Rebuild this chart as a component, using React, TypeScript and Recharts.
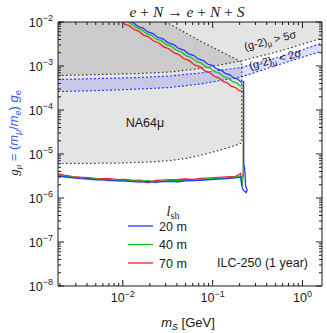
import React from "react";
import { ComposedChart, XAxis, YAxis, Line, Area } from "recharts";

const SANS = "'Liberation Sans', Arial, Helvetica, sans-serif";
const SERIF = "'Liberation Serif', 'Times New Roman', serif";
const INK = "#1a1a1a";
const LABEL_BLUE = "#2f5cf0";

// (g-2)_mu: 5 sigma exclusion edge and the 2 sigma preferred band
const g2Mass = [1.9e-3, 5.59e-3, 1.56e-2, 3.36e-2, 7.26e-2, 0.2077, 0.565, 1.65];
const g2FiveSigma = [6.08e-4, 6.41e-4, 6.76e-4, 7.31e-4, 8.77e-4, 1.3e-3, 2.19e-3, 4.3e-3];
const g2BandHigh = [4.93e-4, 5.2e-4, 5.48e-4, 5.93e-4, 6.93e-4, 9.25e-4, 1.6e-3, 3.3e-3];
const g2BandLow = [2.63e-4, 2.77e-4, 3.0e-4, 3.25e-4, 3.9e-4, 5.62e-4, 1.1e-3, 2.19e-3];

// NA64mu excluded region
const na64Mass = [1.9e-3, 5e-3, 9.33e-3, 2e-2, 3.03e-2, 5e-2, 7.26e-2, 0.1212, 0.16, 0.211];
const na64Low = [6.08e-6, 6.15e-6, 6.25e-6, 6.6e-6, 6.95e-6, 7.9e-6, 9.25e-6, 1.23e-5, 1.45e-5, 1.78e-5];
const na64High = [1e-2, 1e-2, 1e-2, 1e-2, 1e-2, 5.65e-3, 3.7e-3, 2.18e-3, 1.64e-3, 1.23e-3];

// ILC-250 sensitivity, lower edge (shared mass grid)
const lowMass = [1.9e-3, 2.3e-3, 2.8e-3, 3.4e-3, 4.1e-3, 5e-3, 6e-3, 7.3e-3, 8.8e-3, 1.07e-2, 1.3e-2, 1.57e-2, 1.9e-2,
  2.3e-2, 2.8e-2, 3.4e-2, 4.1e-2, 5e-2, 6e-2, 7.3e-2, 8.8e-2, 0.107, 0.13, 0.157, 0.18, 0.2];
const low20 = [3.15e-6, 3.0e-6, 2.87e-6, 2.76e-6, 2.7e-6, 2.6e-6, 2.57e-6, 2.5e-6, 2.46e-6, 2.42e-6, 2.36e-6, 2.3e-6, 2.35e-6,
  2.27e-6, 2.36e-6, 2.38e-6, 2.34e-6, 2.45e-6, 2.48e-6, 2.52e-6, 2.6e-6, 2.66e-6, 2.72e-6, 2.8e-6, 2.86e-6, 2.95e-6];
const low40 = [3.3e-6, 3.12e-6, 2.96e-6, 2.86e-6, 2.76e-6, 2.7e-6, 2.62e-6, 2.6e-6, 2.52e-6, 2.53e-6, 2.45e-6, 2.42e-6, 2.48e-6,
  2.36e-6, 2.43e-6, 2.47e-6, 2.5e-6, 2.55e-6, 2.5e-6, 2.64e-6, 2.7e-6, 2.78e-6, 2.82e-6, 2.93e-6, 2.98e-6, 3.1e-6];
const low70 = [3.55e-6, 3.28e-6, 3.06e-6, 2.96e-6, 2.9e-6, 2.8e-6, 2.74e-6, 2.76e-6, 2.62e-6, 2.66e-6, 2.52e-6, 2.56e-6, 2.2e-6,
  2.5e-6, 2.56e-6, 2.6e-6, 2.63e-6, 2.7e-6, 2.64e-6, 2.78e-6, 2.84e-6, 2.9e-6, 2.98e-6, 3.05e-6, 3.1e-6, 3.45e-6];

// turn-around near 2 m_mu
const turn20Mass = [0.2061, 0.2103, 0.2185, 0.236, 0.2422, 0.2331, 0.23, 0.2272, 0.2214, 0.2214];
const turn20 = [3.0e-6, 1.97e-6, 1.52e-6, 1.33e-6, 1.52e-6, 1.87e-6, 3.33e-6, 4.81e-6, 6.24e-6, 4.4e-4];
const turn40Mass = [0.206, 0.21, 0.215, 0.2175, 0.22, 0.22];
const turn40 = [3.05e-6, 2.25e-6, 2.05e-6, 2.9e-6, 5e-6, 3.6e-4];
const turn70Mass = [0.205, 0.207, 0.2095, 0.22, 0.22];
const turn70 = [3.6e-6, 2.9e-6, 2.85e-6, 3.2e-6, 2.75e-4];

// upper edge, from high mass to low mass
const up20Mass = [0.2185, 0.205, 0.19, 0.17, 0.155, 0.138, 0.125, 0.11, 0.099, 0.088, 0.079, 0.069, 0.062, 0.054,
  0.048, 0.042, 0.037, 0.032, 0.028, 0.0245, 0.0215, 0.019, 0.0168, 0.0148, 0.0132, 0.0122];
const up20 = [4.3e-4, 4.4e-4, 5.05e-4, 5.4e-4, 6.3e-4, 6.8e-4, 8.0e-4, 8.7e-4, 1.03e-3, 1.11e-3, 1.32e-3, 1.45e-3, 1.73e-3,
  1.89e-3, 2.29e-3, 2.5e-3, 3.06e-3, 3.36e-3, 4.14e-3, 4.5e-3, 5.5e-3, 5.95e-3, 7.25e-3, 7.85e-3, 9.45e-3, 1.05e-2];
const up40Mass = [0.2135, 0.2, 0.185, 0.165, 0.15, 0.134, 0.12, 0.107, 0.095, 0.085, 0.075, 0.066, 0.058, 0.051,
  0.045, 0.0395, 0.0345, 0.0305, 0.0268, 0.0235, 0.0207, 0.0182, 0.016, 0.0141, 0.0125, 0.0112];
const up40 = [3.5e-4, 3.6e-4, 4.12e-4, 4.45e-4, 5.24e-4, 5.65e-4, 6.77e-4, 7.3e-4, 8.85e-4, 9.5e-4, 1.16e-3, 1.27e-3, 1.56e-3,
  1.7e-3, 2.08e-3, 2.28e-3, 2.82e-3, 3.07e-3, 3.77e-3, 4.12e-3, 5.06e-3, 5.5e-3, 6.8e-3, 7.4e-3, 9.0e-3, 1.02e-2];
const up70Mass = [0.209, 0.195, 0.18, 0.162, 0.147, 0.131, 0.117, 0.104, 0.092, 0.082, 0.072, 0.063, 0.055, 0.048,
  0.042, 0.037, 0.0325, 0.0285, 0.025, 0.022, 0.0193, 0.017, 0.015, 0.0133, 0.0118, 0.0106, 0.0099];
const up70 = [2.7e-4, 2.78e-4, 3.23e-4, 3.45e-4, 4.1e-4, 4.45e-4, 5.38e-4, 5.85e-4, 7.17e-4, 7.75e-4, 9.6e-4, 1.06e-3, 1.32e-3,
  1.46e-3, 1.82e-3, 2.0e-3, 2.47e-3, 2.72e-3, 3.38e-3, 3.7e-3, 4.6e-3, 5.05e-3, 6.2e-3, 6.75e-3, 8.25e-3, 8.85e-3, 1.02e-2];

const xMajor = [1e-2, 1e-1, 1];
const yMajor = [1e-8, 1e-7, 1e-6, 1e-5, 1e-4, 1e-3, 1e-2];
const X_DOMAIN: [number, number] = [1.9e-3, 1.65];
const Y_DOMAIN: [number, number] = [1e-8, 1e-2];

const withMinors = (decades: number[], lo: number, hi: number) => {
  const out: number[] = [];
  decades.forEach((d) => {
    for (let k = 1; k <= 9; k++) {
      const v = k * d;
      if (v >= lo && v <= hi) out.push(v);
    }
  });
  return out.sort((a, b) => a - b);
};
const xTicks = withMinors([1e-3, ...xMajor], X_DOMAIN[0], X_DOMAIN[1]);
const yTicks = withMinors(yMajor, Y_DOMAIN[0], Y_DOMAIN[1]);

const zip = (ms: number[], gs: number[]) => ms.map((m, i) => ({ m, g: gs[i] }));
const band = (ms: number[], lo: number[], hi: number[]) => ms.map((m, i) => ({ m, r: [lo[i], hi[i]] }));

const fiveSigmaArea = band(g2Mass, g2FiveSigma, g2FiveSigma.map(() => Y_DOMAIN[1]));
const twoSigmaArea = band(g2Mass, g2BandLow, g2BandHigh);
const na64Area = band(na64Mass, na64Low, na64High);
const na64Edge = [
  ...zip(na64Mass, na64Low),
  ...zip(na64Mass, na64High).reverse().filter((p) => p.g < Y_DOMAIN[1]),
  { m: na64Mass[na64High.lastIndexOf(Y_DOMAIN[1])], g: Y_DOMAIN[1] },
];

const contour = (low: number[], tm: number[], tg: number[], um: number[], ug: number[]) => [
  ...zip(lowMass, low),
  ...zip(tm, tg),
  ...zip(um, ug),
];
const curve20 = contour(low20, turn20Mass, turn20, up20Mass, up20);
const curve40 = contour(low40, turn40Mass, turn40, up40Mass, up40);
const curve70 = contour(low70, turn70Mass, turn70, up70Mass, up70);

const expText = (e: number) => (e < 0 ? "\u2212" + Math.abs(e) : String(e));

const makeTick = (side: "bottom" | "top" | "left" | "right", labels: boolean) => (props: any) => {
  const { x, y, payload } = props;
  const lv = Math.log10(payload.value);
  const e = Math.round(lv);
  const major = Math.abs(lv - e) < 1e-6;
  const len = major ? 6 : 3;
  const x2 = side === "left" ? x + len : side === "right" ? x - len : x;
  const y2 = side === "bottom" ? y - len : side === "top" ? y + len : y;
  return (
    <g>
      <line x1={x} y1={y} x2={x2} y2={y2} stroke={INK} strokeWidth={1} />
      {labels && major && side === "bottom" && (
        <text x={x} y={y + 16} textAnchor="middle" fontFamily={SANS} fontSize={12.5} fill={INK}>
          10<tspan dy={-5.5} fontSize={9}>{expText(e)}</tspan>
        </text>
      )}
      {labels && major && side === "left" && (
        <text x={x - 5} y={y + 4.5} textAnchor="end" fontFamily={SANS} fontSize={12.5} fill={INK}>
          10<tspan dy={-5.5} fontSize={9}>{expText(e)}</tspan>
        </text>
      )}
    </g>
  );
};

export default function App() {
  const axisCommon = {
    type: "number" as const,
    scale: "log" as const,
    allowDataOverflow: true,
    interval: 0 as const,
    tickSize: 0,
    tickMargin: 0,
    tickLine: false,
    axisLine: { stroke: INK, strokeWidth: 1 },
  };
  return (
    <div style={{ position: "absolute", left: 0, top: 0, width: 327, height: 333, background: "#fff" }}>
      <ComposedChart width={327} height={333} margin={{ top: 0, right: 0, bottom: 0, left: 0 }}>
        <XAxis {...axisCommon} xAxisId={0} dataKey="m" domain={X_DOMAIN} ticks={xTicks} height={47} tick={makeTick("bottom", true)} />
        <XAxis {...axisCommon} xAxisId="t" orientation="top" dataKey="m" domain={X_DOMAIN} ticks={xTicks} height={22} tick={makeTick("top", false)} />
        <YAxis {...axisCommon} yAxisId={0} domain={Y_DOMAIN} ticks={yTicks} width={58} tick={makeTick("left", true)} />
        <YAxis {...axisCommon} yAxisId="r" orientation="right" domain={Y_DOMAIN} ticks={yTicks} width={5} tick={makeTick("right", false)} />

        <Area data={fiveSigmaArea} dataKey="r" type="linear" stroke="none" fill="#000" fillOpacity={0.105} isAnimationActive={false} />
        <Area data={na64Area} dataKey="r" type="linear" stroke="none" fill="#000" fillOpacity={0.105} isAnimationActive={false} />
        <Area data={twoSigmaArea} dataKey="r" type="linear" stroke="none" fill="#3c3cff" fillOpacity={0.17} isAnimationActive={false} />

        <Line data={zip(g2Mass, g2BandHigh)} dataKey="g" type="linear" stroke="#2233ff" strokeWidth={1.1} strokeDasharray="2 2" dot={false} isAnimationActive={false} />
        <Line data={zip(g2Mass, g2BandLow)} dataKey="g" type="linear" stroke="#2233ff" strokeWidth={1.1} strokeDasharray="2 2" dot={false} isAnimationActive={false} />
        <Line data={zip(g2Mass, g2FiveSigma)} dataKey="g" type="linear" stroke="#333" strokeWidth={1.2} strokeDasharray="1.5 2.5" dot={false} isAnimationActive={false} />
        <Line data={na64Edge} dataKey="g" type="linear" stroke="#333" strokeWidth={1.2} strokeDasharray="1.5 2.5" dot={false} isAnimationActive={false} />

        <Line data={curve70} dataKey="g" type="linear" stroke="#f02020" strokeWidth={1.3} dot={false} isAnimationActive={false} />
        <Line data={curve40} dataKey="g" type="linear" stroke="#1fc01f" strokeWidth={1.3} dot={false} isAnimationActive={false} />
        <Line data={curve20} dataKey="g" type="linear" stroke="#1f3cff" strokeWidth={1.3} dot={false} isAnimationActive={false} />
      </ComposedChart>

      <svg width={327} height={333} style={{ position: "absolute", left: 0, top: 0, pointerEvents: "none" }}>
        <text x={187} y={16.5} textAnchor="middle" fontFamily={SERIF} fontSize={15.5} fill={INK}>
          <tspan fontStyle="italic">e</tspan> + <tspan fontStyle="italic">N</tspan> {"\u2192"} <tspan fontStyle="italic">e</tspan> + <tspan fontStyle="italic">N</tspan> + <tspan fontStyle="italic">S</tspan>
        </text>

        <text transform="translate(18,133) rotate(-90)" textAnchor="middle" fontSize={13} fontFamily={SANS}>
          <tspan fontFamily={SERIF} fontStyle="italic" fill={INK}>g</tspan>
          <tspan fontFamily={SERIF} fontStyle="italic" fill={INK} fontSize={9} dy={3}>μ</tspan>
          <tspan fill={LABEL_BLUE} dy={-3}>
            {" = ("}
            <tspan fontStyle="italic">m</tspan>
            <tspan fontStyle="italic" fontSize={9} dy={3}>μ</tspan>
            <tspan dy={-3}>/</tspan>
            <tspan fontStyle="italic">m</tspan>
            <tspan fontStyle="italic" fontSize={9} dy={3}>e</tspan>
            <tspan dy={-3}>{") "}</tspan>
            <tspan fontStyle="italic">g</tspan>
            <tspan fontStyle="italic" fontSize={9} dy={3}>e</tspan>
          </tspan>
        </text>

        <text x={188} y={327} textAnchor="middle" fontFamily={SANS} fontSize={13} fill={INK}>
          <tspan fontStyle="italic">m</tspan>
          <tspan fontStyle="italic" fontSize={9} dy={3}>S</tspan>
          <tspan dy={-3}>{" [GeV]"}</tspan>
        </text>

        <text x={145} y={127} textAnchor="middle" fontFamily={SANS} fontSize={12.5} fill={INK}>NA64μ</text>

        <text transform="translate(271,44) rotate(-14)" textAnchor="middle" fontFamily={SANS} fontSize={11} fill={INK}>
          (g-2)<tspan fontSize={8} dy={2.5}>μ</tspan><tspan dy={-2.5}>{" > 5σ"}</tspan>
        </text>
        <text transform="translate(276,63) rotate(-14.5)" textAnchor="middle" fontFamily={SANS} fontSize={11} fill={INK}>
          (g-2)<tspan fontSize={8} dy={2.5}>μ</tspan><tspan dy={-2.5}>{" < 2σ"}</tspan>
        </text>

        <text x={173} y={216} textAnchor="middle" fontFamily={SERIF} fontSize={14} fill={INK}>
          <tspan fontStyle="italic">l</tspan>
          <tspan fontSize={10} dy={3}>sh</tspan>
        </text>
        {[
          { label: "20 m", color: "#1f3cff", y: 226 },
          { label: "40 m", color: "#1fc01f", y: 244.5 },
          { label: "70 m", color: "#f02020", y: 263 },
        ].map((it) => (
          <g key={it.label}>
            <line x1={128} x2={153} y1={it.y} y2={it.y} stroke={it.color} strokeWidth={1.3} />
            <text x={159} y={it.y + 4.5} fontFamily={SANS} fontSize={12.5} fill={INK}>{it.label}</text>
          </g>
        ))}
        <text x={308} y={267} textAnchor="end" fontFamily={SANS} fontSize={12.5} fill={INK}>ILC-250 (1 year)</text>
      </svg>
    </div>
  );
}
